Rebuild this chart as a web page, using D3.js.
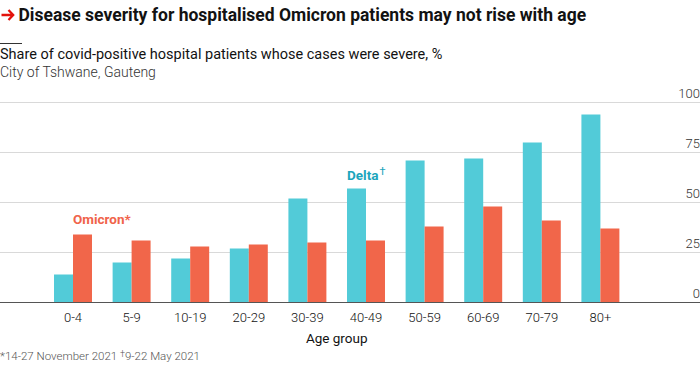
<!DOCTYPE html>
<html>
<head>
<meta charset="utf-8">
<script src="https://cdn.jsdelivr.net/npm/d3@7"></script>
<style>
    body { margin: 0; background: #fff; }
    svg { display: block; font-family: Roboto, "Noto Sans", sans-serif; }
</style>
</head>
<body>
<div id="chart"></div>
<script>
const ageGroups = ['0-4', '5-9', '10-19', '20-29', '30-39', '40-49', '50-59', '60-69', '70-79', '80+'];
const deltaValues = [14, 20, 22, 27, 52, 57, 71, 72, 80, 94];
const omicronValues = [34, 31, 28, 29, 30, 31, 38, 48, 41, 37];
const yTicks = [0, 25, 50, 75, 100];

const width = 700;
const height = 370;
const margin = { top: 102.5, bottom: 67.5, left: 0, right: 0 };

const blue = '#52cbd8';
const red = '#f1664a';

const svg = d3.select('#chart')
    .append('svg')
    .attr('width', width)
    .attr('height', height);

const x = d3.scaleBand()
    .domain(ageGroups)
    .range([43.7, 629.7])
    .paddingInner(0.352)
    .paddingOuter(0.176);

const series = d3.scaleBand()
    .domain(['delta', 'omicron'])
    .range([0, x.bandwidth()]);

const y = d3.scaleLinear()
    .domain([0, 100])
    .range([height - margin.bottom, margin.top]);

// title block, red arrow drawn as a small path
svg.append('path')
    .attr('d', 'M1.5,15 H13 M8.5,10 L13.2,15 L8.5,20')
    .attr('fill', 'none')
    .attr('stroke', '#e3120b')
    .attr('stroke-width', 2.3);

svg.append('text')
    .attr('x', 18.5)
    .attr('y', 21)
    .style('font-size', '17.5px')
    .style('font-weight', 'bold')
    .attr('fill', '#121212')
    .text('Disease severity for hospitalised Omicron patients may not rise with age');

svg.append('line')
    .attr('x1', 0).attr('x2', 22)
    .attr('y1', 43.5).attr('y2', 43.5)
    .attr('stroke', '#333')
    .attr('stroke-width', 1);

svg.append('text')
    .attr('x', 0)
    .attr('y', 59)
    .style('font-size', '14.5px')
    .attr('fill', '#121212')
    .text('Share of covid-positive hospital patients whose cases were severe, %');

svg.append('text')
    .attr('x', 0)
    .attr('y', 77)
    .style('font-size', '14px')
    .style('font-weight', 300)
    .attr('fill', '#333')
    .text('City of Tshwane, Gauteng');

// gridlines + y labels on the right
const grid = svg.append('g');
grid.selectAll('line')
    .data(yTicks.filter(d => d > 0))
    .join('line')
    .attr('x1', 0).attr('x2', width)
    .attr('y1', d => y(d)).attr('y2', d => y(d))
    .attr('stroke', '#d9d9d9')
    .attr('stroke-width', 1);

grid.selectAll('text')
    .data(yTicks)
    .join('text')
    .attr('x', width)
    .attr('y', d => y(d) - 5)
    .attr('text-anchor', 'end')
    .style('font-size', '13px')
    .style('font-weight', 300)
    .attr('fill', '#333')
    .text(d => d);

// bars
const groups = svg.append('g')
    .selectAll('g')
    .data(ageGroups)
    .join('g')
    .attr('transform', d => `translate(${x(d)},0)`);

groups.append('rect')
    .attr('x', series('delta'))
    .attr('y', (d, i) => y(deltaValues[i]))
    .attr('width', series.bandwidth())
    .attr('height', (d, i) => y(0) - y(deltaValues[i]))
    .attr('fill', blue);

groups.append('rect')
    .attr('x', series('omicron'))
    .attr('y', (d, i) => y(omicronValues[i]))
    .attr('width', series.bandwidth())
    .attr('height', (d, i) => y(0) - y(omicronValues[i]))
    .attr('fill', red);

// baseline
svg.append('line')
    .attr('x1', 0).attr('x2', width)
    .attr('y1', y(0)).attr('y2', y(0))
    .attr('stroke', '#555')
    .attr('stroke-width', 1.2);

// x axis
function xAxis(g) {
    g.attr('transform', `translate(0,${y(0)})`)
        .call(d3.axisBottom(x).tickSize(0).tickPadding(10))
        .call(g => g.select('.domain').remove())
        .selectAll('text')
        .style('font-size', '13px')
        .style('font-weight', 300)
        .attr('font-family', 'Roboto, sans-serif')
        .attr('fill', '#121212');
}
svg.append('g').call(xAxis);

svg.append('text')
    .attr('x', (x.range()[0] + x.range()[1]) / 2)
    .attr('y', 343)
    .attr('text-anchor', 'middle')
    .style('font-size', '13.5px')
    .attr('fill', '#121212')
    .text('Age group');

// series labels
svg.append('text')
    .attr('x', x('0-4') + series('omicron'))
    .attr('y', 224)
    .style('font-size', '13.5px')
    .style('font-weight', 'bold')
    .attr('fill', '#f0634a')
    .text('Omicron*');

svg.append('text')
    .attr('x', x('40-49'))
    .attr('y', 180)
    .style('font-size', '13.5px')
    .style('font-weight', 'bold')
    .attr('fill', '#1ba5bc')
    .call(t => {
        t.append('tspan').text('Delta');
        t.append('tspan').attr('dx', 1).attr('dy', -5).style('font-size', '11px').style('font-weight', 400).text('†');
    });

// footnote
svg.append('text')
    .attr('x', 0)
    .attr('y', 360)
    .style('font-size', '11.5px')
    .style('font-weight', 300)
    .attr('fill', '#555')
    .call(t => {
        t.append('tspan').text('*14-27 November 2021 ');
        t.append('tspan').attr('dy', -3).style('font-size', '9px').text('†');
        t.append('tspan').attr('dy', 3).text('9-22 May 2021');
    });
</script>
</body>
</html>
